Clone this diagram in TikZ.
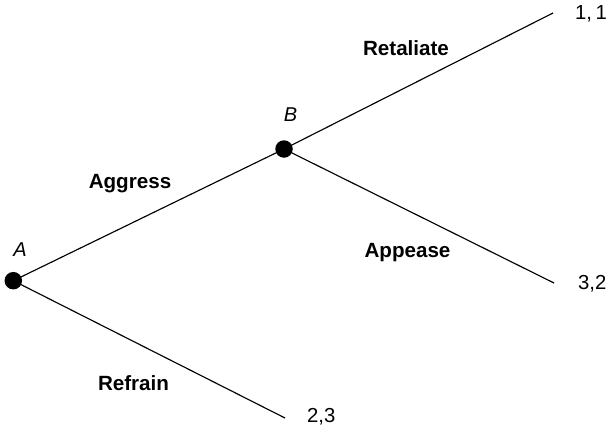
\documentclass[tikz,border=0pt]{standalone}
\usepackage{fontspec}
\setmainfont{Liberation Sans}
\begin{document}
\begin{tikzpicture}[x=1pt,y=-1pt,
  decision/.style={circle,fill=black,inner sep=0pt,minimum size=17.5pt},
  branch/.style={line width=1.15pt,black},
  move/.style={font=\fontsize{20.6}{24}\selectfont\bfseries,anchor=base},
  player/.style={font=\fontsize{20}{24}\selectfont\itshape,anchor=base},
  payoff/.style={font=\fontsize{20.3}{24}\selectfont,anchor=west}]
\useasboundingbox (0,0) rectangle (610,431);
% end points of the branches
\coordinate (e11) at (553,13);
\coordinate (e32) at (554,283);
\coordinate (e23) at (285,418);
% branches
\draw[branch] (13.3,280.7) coordinate (pA) -- (284,149) coordinate (pB);
\draw[branch] (pB) -- (e11);
\draw[branch] (pB) -- (e32);
\draw[branch] (pA) -- (e23);
% decision nodes
\node[decision] (A) at (pA) {};
\node[decision] (B) at (pB) {};
% player labels
\node[player] (lA) at (20,256) {A};
\node[player] (lB) at (290.5,121.7) {B};
% move labels
\node[move] (mAg) at (130,188.7) {Aggress};
\node[move] (mRe) at (406,55) {Retaliate};
\node[move] (mAp) at (407.5,257.7) {Appease};
\node[move] (mRf) at (133.5,390.7) {Refrain};
% payoffs
\node[payoff,inner sep=0pt] (p11) at (575,13.5) {1,\,1};
\node[payoff,inner sep=0pt] (p32) at (578,283.5) {3,2};
\node[payoff,inner sep=0pt] (p23) at (307,417) {2,3};
\end{tikzpicture}
\end{document}
